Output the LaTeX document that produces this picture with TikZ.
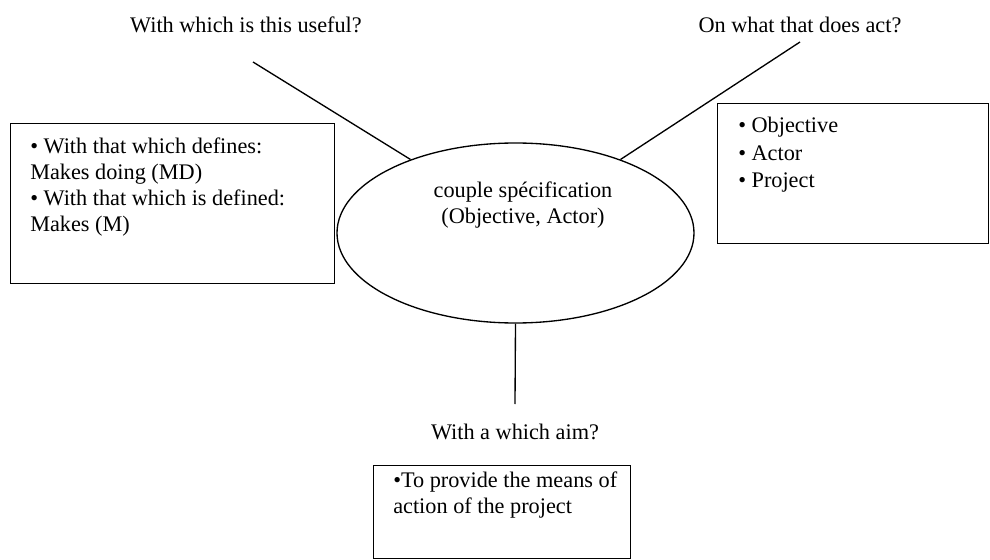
\documentclass[tikz,border=0pt]{standalone}
\usepackage{fontspec}
\setmainfont{Liberation Serif}
\usetikzlibrary{shapes.geometric}
\begin{document}
\begin{tikzpicture}[x=0.75pt,y=-0.75pt,
  every node/.style={font=\fontsize{16.7}{20}\selectfont, inner sep=0pt},
  box/.style={draw, line width=1pt, rectangle, anchor=north west},
  txt/.style={align=left, anchor=north west},
  conn/.style={line width=1pt}]
\useasboundingbox (0,0) rectangle (990,560);
% central ellipse
\node[draw, ellipse, line width=1pt, minimum width=357*0.75pt, minimum height=180*0.75pt] (ell) at (515.5,233) {};
\node[align=center] (spec) at (523,205) {couple spécification\\(Objective, Actor)};
% question labels
\node (q1) at (246,25) {With which is this useful?};
\node (q2) at (800,25) {On what that does act?};
\node (q3) at (515,432) {With a which aim?};
% connectors
\coordinate (e1) at (253,62);
\coordinate (e2) at (800,42);
\coordinate (e3) at (515,404);
\draw[conn] (e1) -- (ell.145);
\draw[conn] (e2) -- (ell.35);
\draw[conn] (ell.south) -- (e3);
% boxes
\node[box, minimum width=324*0.75pt, minimum height=160*0.75pt] (lbox) at (10,123) {};
\node[txt, font=\fontsize{16.7}{19.5}\selectfont] (ltxt) at (30,138) {• With that which defines:\\Makes doing (MD)\\• With that which is defined:\\Makes (M)};
\node[box, minimum width=271*0.75pt, minimum height=140*0.75pt] (rbox) at (717,103) {};
\node[txt, font=\fontsize{16.7}{20.6}\selectfont] (rtxt) at (738,117) {• Objective\\• Actor\\• Project};
\node[box, minimum width=257*0.75pt, minimum height=93*0.75pt] (bbox) at (373,465) {};
\node[txt, font=\fontsize{16.7}{19.5}\selectfont] (btxt) at (393,472) {•To provide the means of\\action of the project};
\end{tikzpicture}
\end{document}
